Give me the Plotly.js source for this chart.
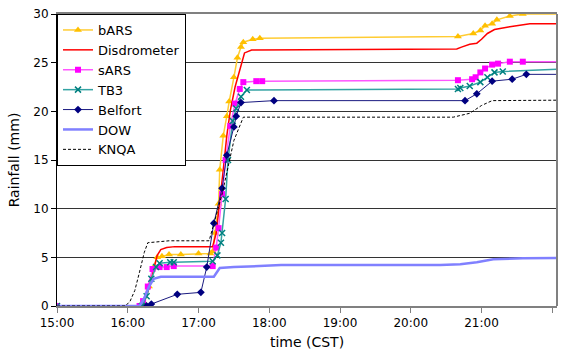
<!DOCTYPE html>
<html>
<head>
<meta charset="utf-8">
<script src="https://cdn.plot.ly/plotly-3.0.1.min.js"></script>
<style>html,body{margin:0;padding:0;background:#fff;}#chart{width:569px;height:358px;}</style>
</head>
<body>
<div id="chart"></div>
<script>
// ---- data (times in CST, rainfall in mm) ----
const hourLabels = ["15:00","16:00","17:00","18:00","19:00","20:00","21:00","22:00"];
const yTicks = [0,5,10,15,20,25,30];

const bARS_t = ["15:00","16:10","16:14","16:18","16:22","16:25","16:29","16:35","16:45","17:00","17:10","17:12","17:14","17:17","17:18","17:21","17:24","17:26","17:30","17:33","17:36","17:38","17:46","17:52","20:40","20:53","20:59","21:03","21:09","21:13","21:24","21:35","22:10"];
const bARS_v = [0,0,0.3,2.0,4.0,5.0,5.1,5.3,5.3,5.4,5.4,5.6,7.5,10.5,14.0,17.5,19.5,21.0,23.5,25.5,26.6,27.1,27.4,27.5,27.7,28.0,28.3,28.8,29.0,29.4,29.8,30.0,30.0];

const disdro_t = ["15:00","16:10","16:15","16:18","16:22","16:25","16:28","16:33","16:40","17:12","17:15","17:18","17:21","17:24","17:27","17:31","17:35","17:39","17:45","20:08","20:39","20:43","20:50","20:56","21:00","21:05","21:11","21:24","21:41","22:10"];
const disdro_v = [0,0,0.8,1.8,3.8,5.2,5.8,6.0,6.1,6.1,7.5,10.5,14.0,17.5,20.1,22.5,24.4,26.0,26.3,26.4,26.4,26.6,26.9,27.0,27.4,28.0,28.4,28.7,29.0,29.0];

const sARS_t = ["15:00","16:10","16:13","16:17","16:21","16:27","16:33","16:39","17:12","17:15","17:17","17:20","17:23","17:27","17:31","17:35","17:38","17:49","17:54","20:40","20:52","20:55","20:59","21:03","21:09","21:14","21:24","21:35","22:10"];
const sARS_v = [0,0,0.5,2.0,3.8,4.0,4.0,4.1,4.1,6.0,8.0,11.5,15.0,18.5,20.8,22.3,23.0,23.1,23.1,23.2,23.3,23.5,24.0,24.4,24.8,24.9,25.1,25.1,25.1];

const tb3_t = ["15:00","16:12","16:16","16:20","16:24","16:27","16:36","16:39","17:12","17:16","17:19","17:20","17:23","17:25","17:29","17:32","17:36","17:41","20:40","20:42","20:50","20:59","21:05","21:11","21:18","22:10"];
const tb3_v = [0,0,1.0,2.8,4.0,4.4,4.5,4.5,4.6,5.2,6.5,7.5,11.0,15.0,19.0,20.3,21.5,22.2,22.3,22.4,22.6,23.0,23.5,24.0,24.1,24.35];

const belfort_t = ["16:16","16:20","16:42","17:02","17:07","17:13","17:20","17:24","17:30","17:32","17:36","18:04","20:46","20:56","21:09","21:26","21:38","22:10"];
const belfort_v = [0,0.2,1.2,1.4,4.0,8.5,12.1,15.5,18.4,19.5,20.9,21.1,21.1,21.8,23.1,23.3,23.8,23.8];

const dow_t = ["15:00","16:10","16:14","16:18","16:22","16:28","17:13","17:18","17:30","17:50","18:10","20:25","20:42","20:56","21:01","21:10","21:35","22:10"];
const dow_v = [0,0,0.8,2.0,2.8,3.0,3.0,3.9,4.0,4.1,4.2,4.2,4.3,4.5,4.6,4.8,4.9,4.95];

const knqa_t = ["15:00","15:58","16:02","16:06","16:10","16:14","16:17","16:25","16:35","17:09","17:20","17:30","17:38","20:36","20:50","21:00","21:09","22:10"];
const knqa_v = [0,0,0.5,1.6,3.5,5.5,6.5,6.6,6.7,6.7,11.5,17.0,19.4,19.4,19.8,20.6,21.1,21.15];

// ---- build ----
const D = t => "2000-01-01 " + t;
const FONT = "DejaVu Sans, Liberation Sans, Arial, sans-serif";

const traces = [
  {name:"bARS", x:bARS_t.map(D), y:bARS_v, mode:"lines+markers",
   line:{color:"#FFCC33", width:1.5}, marker:{symbol:"triangle-up", size:7, color:"#FFC000"}},
  {name:"Disdrometer", x:disdro_t.map(D), y:disdro_v, mode:"lines",
   line:{color:"#FF0000", width:1.5}},
  {name:"sARS", x:sARS_t.map(D), y:sARS_v, mode:"lines+markers",
   line:{color:"#FF55FF", width:1.5}, marker:{symbol:"square", size:6, color:"#FF00FF"}},
  {name:"TB3", x:tb3_t.map(D), y:tb3_v, mode:"lines+markers",
   line:{color:"#33A3A3", width:1.5}, marker:{symbol:"x-thin", size:6, color:"#008080", line:{color:"#008080", width:1.5}}},
  {name:"Belfort", x:belfort_t.map(D), y:belfort_v, mode:"lines+markers",
   line:{color:"#1A1A80", width:1}, marker:{symbol:"diamond", size:6, color:"#000080"}},
  {name:"DOW", x:dow_t.map(D), y:dow_v, mode:"lines",
   line:{color:"#8080FF", width:2.5}},
  {name:"KNQA", x:knqa_t.map(D), y:knqa_v, mode:"lines",
   line:{color:"#000000", width:1, dash:"3px,2px"}}
];

const layout = {
  width:569, height:358,
  margin:{l:57, r:12, t:14, b:52},
  paper_bgcolor:"#ffffff", plot_bgcolor:"#ffffff",
  font:{family:FONT, size:12, color:"#000"},
  showlegend:true,
  legend:{x:0, y:1, xanchor:"left", yanchor:"top", bgcolor:"#ffffff",
          bordercolor:"#000000", borderwidth:1, font:{family:FONT, size:13, color:"#000"},
          tracegroupgap:0, itemwidth:30},
  xaxis:{type:"date", range:[D("15:00"), D("22:04")],
         tickvals:hourLabels.map(D), ticktext:hourLabels,
         ticks:"outside", ticklen:5, tickcolor:"#808080", tickwidth:1,
         showline:true, linecolor:"#808080", linewidth:2, mirror:true,
         showgrid:false, zeroline:false,
         tickfont:{family:FONT, size:12, color:"#000"},
         title:{text:"time (CST)", font:{family:FONT, size:14, color:"#000"}, standoff:8}},
  yaxis:{range:[0,30], tickvals:yTicks, ticktext:yTicks.map(String),
         ticks:"outside", ticklen:5, tickcolor:"#000", tickwidth:1,
         showline:true, linecolor:"#000000", linewidth:1,
         showgrid:true, gridcolor:"#333333", gridwidth:1, zeroline:false,
         tickfont:{family:FONT, size:12, color:"#000"},
         title:{text:"Rainfall (mm)", font:{family:FONT, size:14, color:"#000"}, standoff:10}},
  shapes:[{type:"line", xref:"paper", yref:"paper", x0:1, x1:1, y0:0, y1:1,
           line:{color:"#808080", width:2}}]
};

Plotly.newPlot("chart", traces, layout, {displayModeBar:false, staticPlot:true});
</script>
</body>
</html>
